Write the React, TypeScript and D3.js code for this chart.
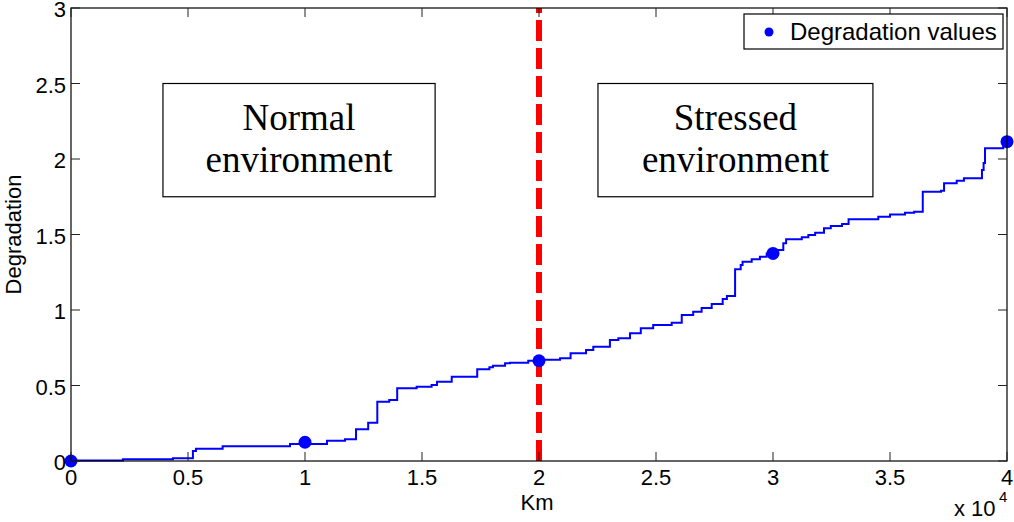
import * as d3 from 'd3';

// step trace of the degradation path (km, degradation)
const stepKm = [
  0, 2220, 4360, 5210, 5340, 6480, 9360, 10940, 11710, 12180, 12700, 13090, 13600, 13940,
  14770, 15410, 15640, 16270, 17360, 17880, 18030, 18550, 18760, 19540, 20170, 20900,
  21350, 22010, 22320, 23030, 23390, 23890, 24350, 24880, 25670, 26100, 26590, 26950,
  27380, 27850, 28030, 28380, 28620, 28700, 29090, 29440, 29730, 30170, 30440, 30560,
  31230, 31510, 31800, 32180, 32470, 32950, 33230, 34500, 35000, 35640, 36030, 36400,
  37180, 37310, 37850, 38160, 38930, 39000, 39060, 39840, 40000,
];
const stepDeg = [
  0.004, 0.011, 0.018, 0.066, 0.081, 0.097, 0.113, 0.134, 0.144, 0.21, 0.254, 0.393, 0.404,
  0.481, 0.492, 0.503, 0.525, 0.558, 0.607, 0.621, 0.631, 0.647, 0.651, 0.664, 0.671, 0.68,
  0.713, 0.735, 0.757, 0.801, 0.813, 0.846, 0.879, 0.901, 0.916, 0.967, 0.989, 1.013, 1.04,
  1.073, 1.093, 1.27, 1.298, 1.32, 1.336, 1.353, 1.375, 1.397, 1.442, 1.468, 1.481, 1.497,
  1.512, 1.541, 1.556, 1.57, 1.601, 1.618, 1.632, 1.644, 1.651, 1.783, 1.79, 1.839, 1.856,
  1.872, 1.927, 1.974, 2.071, 2.113, 2.113,
];

// measured degradation values
const pointKm = [0, 10000, 20000, 30000, 40000];
const pointDeg = [0, 0.124, 0.664, 1.375, 2.115];

const xTicks = [0, 5000, 10000, 15000, 20000, 25000, 30000, 35000, 40000];
const xTickLabels = ['0', '0.5', '1', '1.5', '2', '2.5', '3', '3.5', '4'];
const yTicks = [0, 0.5, 1, 1.5, 2, 2.5, 3];
const yTickLabels = ['0', '0.5', '1', '1.5', '2', '2.5', '3'];

const changeKm = 20000;
const regionLabels = [
  { from: 3930, to: 15560, lines: ['Normal', 'environment'] },
  { from: 22520, to: 34270, lines: ['Stressed', 'environment'] },
];

export default function App() {
  const width = 1014;
  const height = 522;
  const m = { left: 71, right: 7, top: 8, bottom: 61 };

  const x = d3.scaleLinear().domain([0, 40000]).range([m.left, width - m.right]);
  const y = d3.scaleLinear().domain([0, 3]).range([height - m.bottom, m.top]);

  const pts = stepKm.map((k, i) => [k, stepDeg[i]] as [number, number]);
  const line = d3
    .line<[number, number]>()
    .x((d) => x(d[0]))
    .y((d) => y(d[1]))
    .curve(d3.curveStepAfter);

  const x0 = x(0);
  const x1 = x(40000);
  const yb = y(0);
  const yt = y(3);
  const tick = 9;
  const fs = 22;
  const font = 'Arial, "Liberation Sans", sans-serif';

  return (
    <svg
      width={width}
      height={height}
      style={{ position: 'absolute', left: 0, top: 0, background: '#fff' }}
      fontFamily={font}
    >
      <rect x={0} y={0} width={width} height={height} fill="#fff" />

      {/* region boxes */}
      {regionLabels.map((r, i) => {
        const bx = x(r.from);
        const bw = x(r.to) - x(r.from);
        const by = y(2.5);
        const bh = y(1.75) - y(2.5);
        return (
          <g key={i}>
            <rect x={bx} y={by} width={bw} height={bh} fill="#fff" stroke="#000" strokeWidth={1.2} />
            {r.lines.map((t, j) => (
              <text
                key={j}
                x={bx + bw / 2}
                y={by + 46 + j * 42}
                textAnchor="middle"
                fontFamily='"Times New Roman", "Liberation Serif", serif'
                fontSize={37}
                fill="#000"
              >
                {t}
              </text>
            ))}
          </g>
        );
      })}

      {/* degradation path */}
      <path d={line(pts) ?? ''} fill="none" stroke="#0000ff" strokeWidth={2} />

      {/* change of environment */}
      <line
        x1={x(changeKm)}
        x2={x(changeKm)}
        y1={yb}
        y2={yt}
        stroke="#ff0000"
        strokeWidth={6}
        strokeDasharray="21 7"
      />

      {pointKm.map((k, i) => (
        <circle key={i} cx={x(k)} cy={y(pointDeg[i])} r={6.5} fill="#0000ff" />
      ))}

      {/* axes box */}
      <rect x={x0} y={yt} width={x1 - x0} height={yb - yt} fill="none" stroke="#000" strokeWidth={1.2} />

      {xTicks.map((t, i) => (
        <g key={`x${i}`}>
          <line x1={x(t)} x2={x(t)} y1={yb} y2={yb - tick} stroke="#222" strokeWidth={1} />
          <line x1={x(t)} x2={x(t)} y1={yt} y2={yt + tick} stroke="#222" strokeWidth={1} />
          <text x={x(t)} y={yb + 24} textAnchor="middle" fontSize={fs} fill="#000">
            {xTickLabels[i]}
          </text>
        </g>
      ))}
      {yTicks.map((t, i) => (
        <g key={`y${i}`}>
          <line x1={x0} x2={x0 + tick} y1={y(t)} y2={y(t)} stroke="#222" strokeWidth={1} />
          <line x1={x1} x2={x1 - tick} y1={y(t)} y2={y(t)} stroke="#222" strokeWidth={1} />
          <text x={x0 - 5} y={y(t) + 9} textAnchor="end" fontSize={fs} fill="#000">
            {yTickLabels[i]}
          </text>
        </g>
      ))}

      <text x={x(changeKm) - 2} y={510} textAnchor="middle" fontSize={fs} fill="#000">
        Km
      </text>
      <text x={954} y={516} fontSize={fs} fill="#000">
        x 10
      </text>
      <text x={999} y={502} fontSize={15} fill="#000">
        4
      </text>
      <text
        transform={`translate(21, ${(yb + yt) / 2}) rotate(-90)`}
        textAnchor="middle"
        fontSize={fs}
        fill="#000"
      >
        Degradation
      </text>

      {/* legend */}
      <g>
        <rect x={744} y={14} width={259} height={35} fill="#fff" stroke="#000" strokeWidth={1.2} />
        <circle cx={769} cy={32} r={4.5} fill="#0000ff" />
        <text x={790} y={40} fontSize={24} fill="#000">
          Degradation values
        </text>
      </g>
    </svg>
  );
}
